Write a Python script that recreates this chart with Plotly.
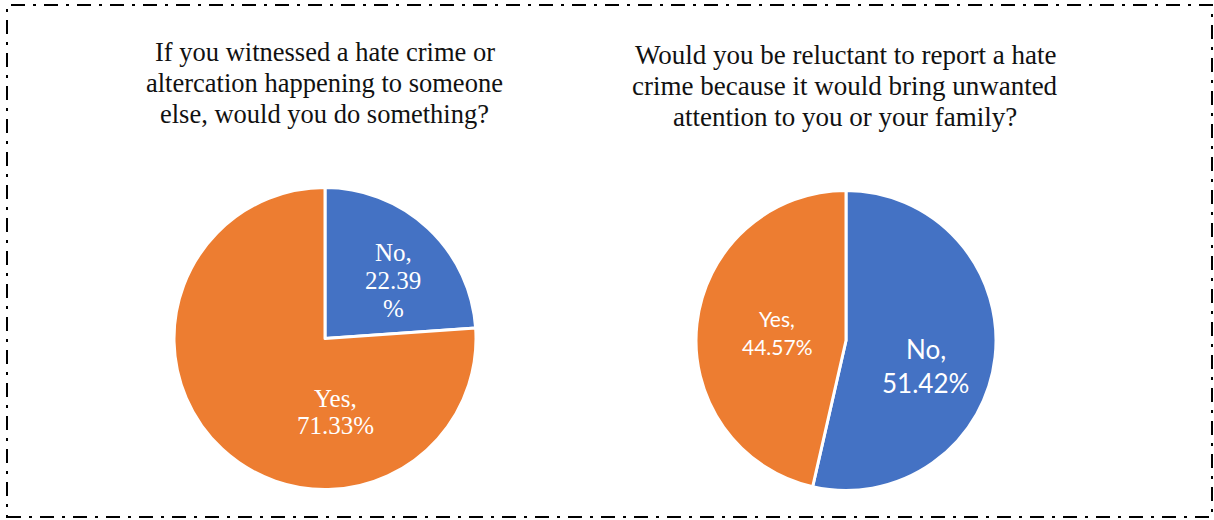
import plotly.graph_objects as go

W, H = 1214, 520

left_title_lines = ["If you witnessed a hate crime or",
                    "altercation happening to someone",
                    "else, would you do something?"]
right_title_lines = ["Would you be reluctant to report a hate",
                     "crime because it would bring unwanted",
                     "attention to you or your family?"]

left_labels = ["No", "Yes"]
left_values = [22.39, 71.33]
right_labels = ["No", "Yes"]
right_values = [51.42, 44.57]

colors = ["#4472C4", "#ED7D31"]

fig = go.Figure()

for labels, values, dom in [
    (left_labels, left_values, dict(x=[174/W, 476/W], y=[1-490/H, 1-187/H])),
    (right_labels, right_values, dict(x=[696/W, 996/W], y=[1-491/H, 1-190/H])),
]:
    fig.add_trace(go.Pie(
        labels=labels, values=values, sort=False, direction="clockwise", rotation=0,
        marker=dict(colors=colors, line=dict(color="white", width=3)),
        textinfo="none", showlegend=False, hoverinfo="label+value",
        domain=dom,
    ))

def px(x):
    return x / W

def py(y):
    return 1 - y / H

def add_line(text, x, y, family, size, color):
    fig.add_annotation(text=text, x=px(x), y=py(y), xref="paper", yref="paper",
                       xanchor="center", yanchor="middle", showarrow=False,
                       font=dict(family=family, size=size, color=color))

# titles
for i, line in enumerate(left_title_lines):
    add_line(line, 325, 52 + 31 * i, "Liberation Serif", 26.5, "#111111")
for i, line in enumerate(right_title_lines):
    add_line(line, 845, 55 + 31 * i, "Liberation Serif", 27, "#111111")

# data labels (text from data)
ln, lv = left_labels[0], left_values[0]
for txt, y in zip([f"{ln},", f"{lv:.2f}", "%"], [252, 280, 308]):
    add_line(txt, 393, y, "Liberation Serif", 25, "white")
ln, lv = left_labels[1], left_values[1]
for txt, y in zip([f"{ln},", f"{lv:.2f}%"], [398, 425]):
    add_line(txt, 335, y, "Liberation Serif", 25, "white")
rn, rv = right_labels[0], right_values[0]
for txt, y in zip([f"{rn},", f"{rv:.2f}%"], [349, 383]):
    add_line(txt, 926, y, "Lato", 26, "white")
rn, rv = right_labels[1], right_values[1]
for txt, y in zip([f"{rn},", f"{rv:.2f}%"], [318, 346]):
    add_line(txt, 777, y, "Lato", 21, "white")

fig.add_shape(type="rect", xref="paper", yref="paper",
              x0=px(7), x1=px(1212), y0=py(517), y1=py(5),
              line=dict(color="black", width=2, dash="14px,8px,3px,8px"))

fig.update_layout(width=W, height=H, margin=dict(l=0, r=0, t=0, b=0),
                  paper_bgcolor="white", plot_bgcolor="white")

fig.write_html("out.html", config={"displayModeBar": False},
               post_script="document.body.style.margin='0';document.body.style.overflow='hidden';")
